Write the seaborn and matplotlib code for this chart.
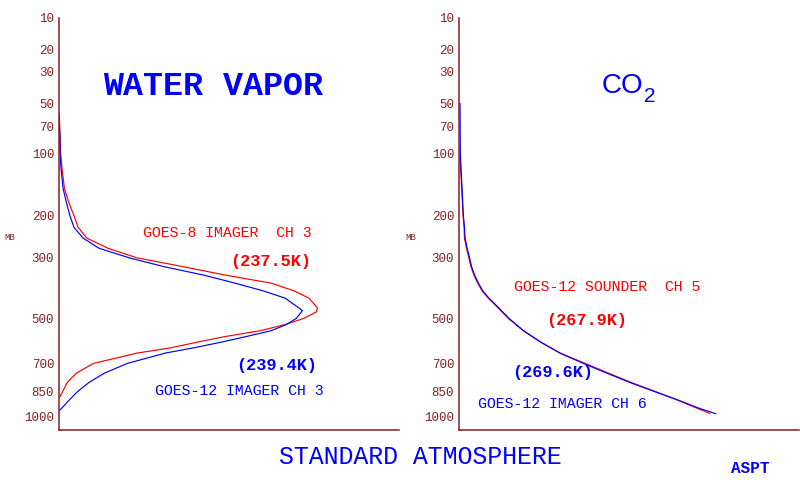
import numpy as np
import pandas as pd
import matplotlib
matplotlib.use("Agg")
import matplotlib.pyplot as plt
from matplotlib.ticker import NullLocator
import seaborn as sns

# ---------------- data ----------------
PRESSURE_TICKS = [10, 20, 30, 50, 70, 100, 200, 300, 500, 700, 850, 1000]
TICK_LABELS = ["10", "20", "30", "50", "70", "100", "200", "300", "500", "700", "850", "1000"]

# Water vapour panel: GOES-8 Imager Ch 3 (red)
wv_g8_p = [58, 60, 80, 100, 120, 150, 175, 200, 225, 250, 275, 300, 325, 350, 375,
           400, 425, 450, 460, 475, 500, 525, 550, 575, 600, 625, 650, 700, 750,
           800, 850, 880]
wv_g8_w = [0.0, 0.001, 0.003, 0.005, 0.009, 0.016, 0.029, 0.044, 0.056, 0.082, 0.144,
           0.229, 0.365, 0.49, 0.624, 0.691, 0.735, 0.753, 0.760, 0.757, 0.72, 0.664,
           0.592, 0.488, 0.405, 0.329, 0.229, 0.101, 0.051, 0.024, 0.011, 0.003]

# Water vapour panel: GOES-12 Imager Ch 3 (blue)
wv_g12_p = [63, 80, 100, 120, 150, 175, 200, 225, 250, 275, 300, 325, 350, 375, 400,
            425, 450, 470, 500, 525, 550, 575, 600, 625, 650, 700, 750, 800, 850, 900,
            950, 960]
wv_g12_w = [0.0, 0.003, 0.003, 0.006, 0.012, 0.022, 0.032, 0.044, 0.071, 0.118, 0.206,
            0.309, 0.426, 0.518, 0.6, 0.665, 0.694, 0.716, 0.698, 0.668, 0.624, 0.55,
            0.476, 0.397, 0.312, 0.201, 0.133, 0.088, 0.055, 0.030, 0.008, 0.003]

# CO2 panel: GOES-12 Sounder Ch 5 (red)
co2_snd_p = [103, 120, 150, 175, 200, 225, 250, 275, 300, 325, 350, 375, 400, 425,
             450, 500, 550, 600, 650, 700, 750, 800, 850, 900, 950, 983]
co2_snd_w = [0.003, 0.005, 0.008, 0.010, 0.012, 0.015, 0.016, 0.022, 0.029, 0.035,
             0.044, 0.055, 0.068, 0.086, 0.107, 0.145, 0.189, 0.241, 0.298, 0.371,
             0.44, 0.507, 0.577, 0.642, 0.700, 0.738]

# CO2 panel: GOES-12 Imager Ch 6 (blue)
co2_img_p = [50, 100, 120, 150, 175, 200, 225, 250, 275, 300, 325, 350, 375, 400, 425,
             450, 500, 550, 600, 650, 700, 750, 800, 850, 900, 950, 985]
co2_img_w = [0.003, 0.004, 0.006, 0.009, 0.011, 0.013, 0.016, 0.018, 0.024, 0.031,
             0.037, 0.046, 0.057, 0.070, 0.088, 0.109, 0.147, 0.190, 0.241, 0.297,
             0.366, 0.435, 0.503, 0.574, 0.644, 0.706, 0.756]

# ---------------- style ----------------
sns.set_style("white")
plt.rcParams['font.family'] = ['Liberation Mono', 'DejaVu Sans']

BROWN = "#822222"
RED = "#ff0000"
BLUE = "#0000ff"
W, H = 800, 480

fig = plt.figure(figsize=(8, 4.8), dpi=100)
fig.patch.set_facecolor("white")


def fwd(p):
    p = np.asarray(p, dtype=float)
    return np.sign(p) * np.abs(p) ** (2.0 / 7.0)


def inv(f):
    f = np.asarray(f, dtype=float)
    return np.sign(f) * np.abs(f) ** 3.5


def px(x, y):
    return x / W, 1 - y / H


axL = fig.add_axes([59 / W, 1 - 430 / H, 340 / W, (430 - 18) / H])
axR = fig.add_axes([459 / W, 1 - 430 / H, 340 / W, (430 - 18) / H])

for ax in (axL, axR):
    ax.set_yscale('function', functions=(fwd, inv))

df_wv8 = pd.DataFrame({"p": wv_g8_p, "w": wv_g8_w})
df_wv12 = pd.DataFrame({"p": wv_g12_p, "w": wv_g12_w})
df_c5 = pd.DataFrame({"p": co2_snd_p, "w": co2_snd_w})
df_c6 = pd.DataFrame({"p": co2_img_p, "w": co2_img_w})

LW = 0.85
sns.lineplot(data=df_wv8, x="w", y="p", sort=False, estimator=None, color=RED, lw=LW, ax=axL)
sns.lineplot(data=df_wv12, x="w", y="p", sort=False, estimator=None, color=BLUE, lw=LW, ax=axL)
sns.lineplot(data=df_c5, x="w", y="p", sort=False, estimator=None, color=RED, lw=LW, ax=axR)
sns.lineplot(data=df_c6, x="w", y="p", sort=False, estimator=None, color=BLUE, lw=LW, ax=axR)

for ax in (axL, axR):
    ax.set_ylim(1092, 10)
    ax.set_xlim(0, 1)
    ax.set_yticks(PRESSURE_TICKS)
    ax.set_yticklabels(TICK_LABELS)
    ax.yaxis.set_minor_locator(NullLocator())
    ax.set_xticks([])
    ax.tick_params(axis='y', length=0, pad=3.5, labelsize=9, labelcolor=BROWN)
    for s in ('top', 'right'):
        ax.spines[s].set_visible(False)
    for s in ('left', 'bottom'):
        ax.spines[s].set_color(BROWN)
        ax.spines[s].set_linewidth(1.1)
    ax.set_xlabel("")
    ax.set_ylabel("")
    ax.patch.set_alpha(0)
    for lab in ax.get_yticklabels():
        lab.set_family(['Liberation Mono', 'DejaVu Sans'])

# ---------------- texts ----------------
mono = ['Liberation Mono', 'DejaVu Sans']
sans = ['Liberation Sans', 'DejaVu Sans']

fig.text(*px(213, 95), "WATER VAPOR", color=BLUE, fontsize=24, fontweight='bold',
         family=mono, ha='center', va='baseline')
fig.text(*px(602, 93), "CO", color=BLUE, fontsize=20, family=sans, ha='left', va='baseline')
fig.text(*px(644, 102), "2", color=BLUE, fontsize=15, family=sans, ha='left', va='baseline')

fig.text(*px(4, 240), "MB", color=BROWN, fontsize=6.5, family=mono, ha='left', va='baseline')
fig.text(*px(405, 240), "MB", color=BROWN, fontsize=6.5, family=mono, ha='left', va='baseline')

fig.text(*px(143, 237), "GOES-8 IMAGER  CH 3", color=RED, fontsize=10.7, family=mono,
         ha='left', va='baseline')
fig.text(*px(230, 266), "(237.5K)", color=RED, fontsize=12.2, fontweight='bold', family=mono,
         ha='left', va='baseline')
fig.text(*px(236, 370), "(239.4K)", color=BLUE, fontsize=12.2, fontweight='bold', family=mono,
         ha='left', va='baseline')
fig.text(*px(155, 395), "GOES-12 IMAGER CH 3", color=BLUE, fontsize=10.7, family=mono,
         ha='left', va='baseline')

fig.text(*px(514, 291), "GOES-12 SOUNDER  CH 5", color=RED, fontsize=10.7, family=mono,
         ha='left', va='baseline')
fig.text(*px(546, 325), "(267.9K)", color=RED, fontsize=12.2, fontweight='bold', family=mono,
         ha='left', va='baseline')
fig.text(*px(512, 377), "(269.6K)", color=BLUE, fontsize=12.2, fontweight='bold', family=mono,
         ha='left', va='baseline')
fig.text(*px(478, 408), "GOES-12 IMAGER CH 6", color=BLUE, fontsize=10.7, family=mono,
         ha='left', va='baseline')

fig.text(*px(420.5, 464), "STANDARD ATMOSPHERE", color=BLUE, fontsize=17.9, family=mono,
         ha='center', va='baseline')
fig.text(*px(750.5, 473), "ASPT", color=BLUE, fontsize=11.5, fontweight='bold', family=mono,
         ha='center', va='baseline')

fig.savefig("out.png", dpi=100, facecolor="white")
